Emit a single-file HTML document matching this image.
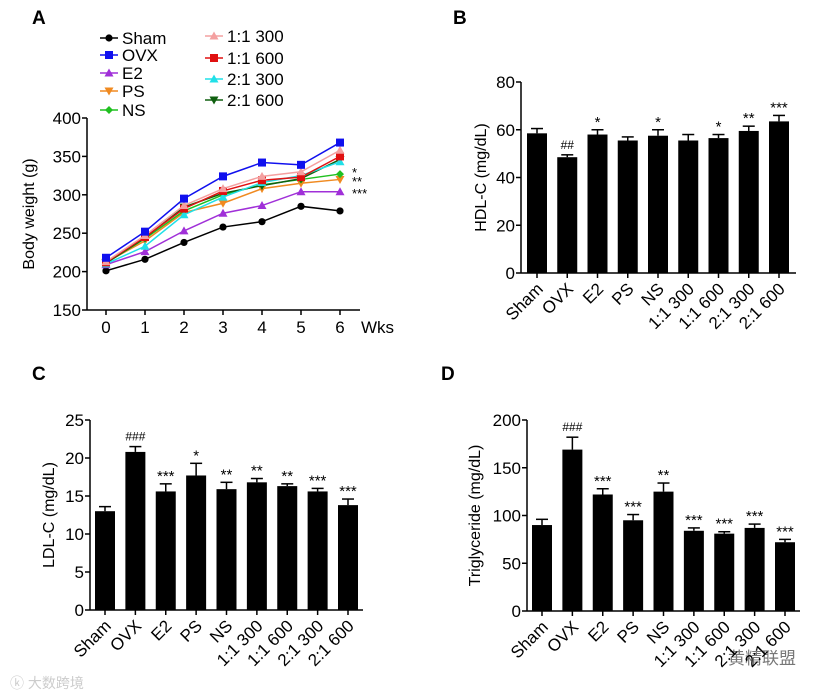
<!DOCTYPE html>
<html><head><meta charset="utf-8"><style>
body{margin:0;background:#fff;}
svg{display:block;font-family:"Liberation Sans",Arial,sans-serif;}
</style></head><body>
<svg id="s" width="833" height="695" viewBox="0 0 833 695" xmlns="http://www.w3.org/2000/svg">
<text x="32" y="24" font-size="19" font-weight="bold">A</text>
<text x="453" y="24" font-size="19" font-weight="bold">B</text>
<text x="32" y="380" font-size="19" font-weight="bold">C</text>
<text x="441" y="380" font-size="19" font-weight="bold">D</text>
<text x="10" y="688" font-size="14" fill="#ccc" font-family="'Liberation Sans','Noto Sans CJK SC',sans-serif">ⓚ 大数跨境</text>
<text x="728" y="664" font-size="17" fill="#777" font-family="'Liberation Sans','Noto Sans CJK SC',sans-serif">黄精联盟</text>
</svg>
<script>
const weeks=[0,1,2,3,4,5,6];
const groupNames=["Sham","OVX","E2","PS","NS","1:1 300","1:1 600","2:1 300","2:1 600"];
const shamW=[201,216,238,258,265,285,279];
const ovxW=[218,252,295,324,342,339,368];
const e2W=[209,226,253,276,286,304,304];
const psW=[212,240,277,289,308,315,320];
const nsW=[211,243,279,300,313,320,327];
const g11_300W=[213,247,286,308,324,330,358];
const g11_600W=[212,245,282,305,319,323,350];
const g21_300W=[210,233,274,297,316,325,343];
const g21_600W=[211,244,284,302,312,321,346];
const weightTicks=[150,200,250,300,350,400];
const hdl=[58.5,48.5,58,55.5,57.5,55.5,56.5,59.5,63.5];
const hdlErr=[2,1,2,1.5,2.5,2.5,1.5,2,2.5];
const hdlSig=["","##","*","","*","","*","**","***"];
const hdlTicks=[0,20,40,60,80];
const ldl=[13,20.8,15.6,17.7,15.9,16.8,16.3,15.6,13.8];
const ldlErr=[0.6,0.7,1,1.6,0.9,0.5,0.3,0.4,0.8];
const ldlSig=["","###","***","*","**","**","**","***","***"];
const ldlTicks=[0,5,10,15,20,25];
const tg=[90,169,122,95,125,84,81,87,72];
const tgErr=[6,13,6,6,9,3,2,4,3];
const tgSig=["","###","***","***","**","***","***","***","***"];
const tgTicks=[0,50,100,150,200];

const S=document.getElementById('s');const NS="http://www.w3.org/2000/svg";
function mk(t,a,txt){const e=document.createElementNS(NS,t);for(const k in a)e.setAttribute(k,a[k]);if(txt!==undefined)e.textContent=txt;S.appendChild(e);return e;}

// Panel A
const ax={x0:87,x1:360,y0:310,y1:118,vmin:150,vmax:400,w0:106,w6:340};
const sx=w=>ax.w0+(ax.w6-ax.w0)*w/6;
const sy=v=>ax.y0-(v-ax.vmin)/(ax.vmax-ax.vmin)*(ax.y0-ax.y1);
let e=mk('line',{x1:ax.x0,y1:ax.y1,x2:ax.x0,y2:ax.y0,stroke:'#000','stroke-width':1.5});

e=mk('line',{x1:ax.x0,y1:ax.y0,x2:ax.x1,y2:ax.y0,stroke:'#000','stroke-width':1.5});

weightTicks.forEach(t=>{const y=sy(t);mk('line',{x1:ax.x0-5,y1:y,x2:ax.x0,y2:y,stroke:'#000','stroke-width':1.5});
e=mk('text',{x:ax.x0-6,y:y+6,'font-size':17,'text-anchor':'end'},t);});
weeks.forEach(w=>{const x=sx(w);mk('line',{x1:x,y1:ax.y0,x2:x,y2:ax.y0+5,stroke:'#000','stroke-width':1.5});
e=mk('text',{x:x,y:ax.y0+23,'font-size':17,'text-anchor':'middle'},w);});
e=mk('text',{x:361,y:333,'font-size':17},'Wks');
e=mk('text',{x:0,y:0,'font-size':16,'text-anchor':'middle',transform:`translate(34,${(ax.y0+ax.y1)/2}) rotate(-90)`},'Body weight (g)');

const series=[[shamW,'#000','circle'],[ovxW,'#1010ee','square'],[e2W,'#a030d8','tri'],[psW,'#f08a20','down'],[nsW,'#20c020','diamond'],
[g11_300W,'#f4a0a0','tri'],[g11_600W,'#e01010','square'],[g21_300W,'#20e0e8','tri'],[g21_600W,'#106010','down']];
function marker(x,y,c,shape){let m;
if(shape=='circle')m=mk('circle',{cx:x,cy:y,r:3.6,fill:c});
else if(shape=='square')m=mk('rect',{x:x-4,y:y-4,width:8,height:8,fill:c});
else if(shape=='tri')m=mk('polygon',{points:`${x},${y-4.5} ${x-4.5},${y+3.5} ${x+4.5},${y+3.5}`,fill:c});
else if(shape=='down')m=mk('polygon',{points:`${x},${y+4.5} ${x-4.5},${y-3.5} ${x+4.5},${y-3.5}`,fill:c});
else m=mk('polygon',{points:`${x},${y-4} ${x-4},${y} ${x},${y+4} ${x+4},${y}`,fill:c});
return m;}
const order=[0,2,3,4,8,7,6,5,1];
order.forEach(i=>{const [d,c,sh]=series[i];
const p=mk('polyline',{points:d.map((v,j)=>sx(weeks[j])+','+sy(v)).join(' '),fill:'none',stroke:c,'stroke-width':1.5});

d.forEach((v,j)=>{const m=marker(sx(weeks[j]),sy(v),c,sh);});});
[['*',177],['**',186],['***',198]].forEach(([t,y])=>{e=mk('text',{x:352,y:y,'font-size':13},t);});
// legend
const legPos=[[100,38],[100,55],[100,73],[100,91],[100,110],[205,36],[205,58],[205,79],[205,100]];
series.forEach(([d,c,sh],i)=>{const [lx,ly]=legPos[i];
mk('line',{x1:lx,y1:ly,x2:lx+18,y2:ly,stroke:c,'stroke-width':1.5});
let m=marker(lx+9,ly,c,sh);
e=mk('text',{x:lx+22,y:ly+6,'font-size':17},groupNames[i]);});

// Bar panels
function barChart(p,vals,errs,sigs,ticks,title,name){
const vmax=ticks[ticks.length-1];const y=v=>p.y0-v/vmax*(p.y0-p.y1);
const step=(p.clast-p.c0)/(vals.length-1);
vals.forEach((v,i)=>{const cx=p.c0+i*step;const top=y(v),et=y(v+errs[i]);
mk('line',{x1:cx,y1:top,x2:cx,y2:et,stroke:'#000','stroke-width':1.5});
mk('line',{x1:cx-6,y1:et,x2:cx+6,y2:et,stroke:'#000','stroke-width':1.5});
let b=mk('rect',{x:cx-10,y:top,width:20,height:p.y0-top,fill:'#000'});
if(sigs[i]){let t=mk('text',{x:cx,y:sigs[i][0]=='#'?et-6:et-3,'font-size':sigs[i][0]=='#'?12:15,'text-anchor':'middle'},sigs[i]);}
mk('line',{x1:cx,y1:p.y0,x2:cx,y2:p.y0+5,stroke:'#000','stroke-width':1.5});
let l=mk('text',{x:0,y:0,'font-size':17,'text-anchor':'end',transform:`translate(${cx+7},${p.y0+17}) rotate(-45)`},groupNames[i]);
});
let a=mk('line',{x1:p.x0,y1:p.y1,x2:p.x0,y2:p.y0,stroke:'#000','stroke-width':1.5});
a=mk('line',{x1:p.x0,y1:p.y0,x2:p.x1,y2:p.y0,stroke:'#000','stroke-width':1.5});
ticks.forEach(t=>{const yy=y(t);mk('line',{x1:p.x0-5,y1:yy,x2:p.x0,y2:yy,stroke:'#000','stroke-width':1.5});
let tt=mk('text',{x:p.x0-6,y:yy+6,'font-size':17,'text-anchor':'end'},t);});
let tl=mk('text',{x:0,y:0,'font-size':16,'text-anchor':'middle',transform:`translate(${p.tx},${(p.y0+p.y1)/2}) rotate(-90)`},title);
}
barChart({x0:521,x1:796,y0:273,y1:82,c0:537,clast:779,tx:486},hdl,hdlErr,hdlSig,hdlTicks,'HDL-C (mg/dL)','hdl');
barChart({x0:90,x1:363,y0:610,y1:420,c0:105,clast:348,tx:54},ldl,ldlErr,ldlSig,ldlTicks,'LDL-C (mg/dL)','ldl');
barChart({x0:527,x1:800,y0:611,y1:420,c0:542,clast:785,tx:480},tg,tgErr,tgSig,tgTicks,'Triglyceride (mg/dL)','tg');
</script>
</body></html>
